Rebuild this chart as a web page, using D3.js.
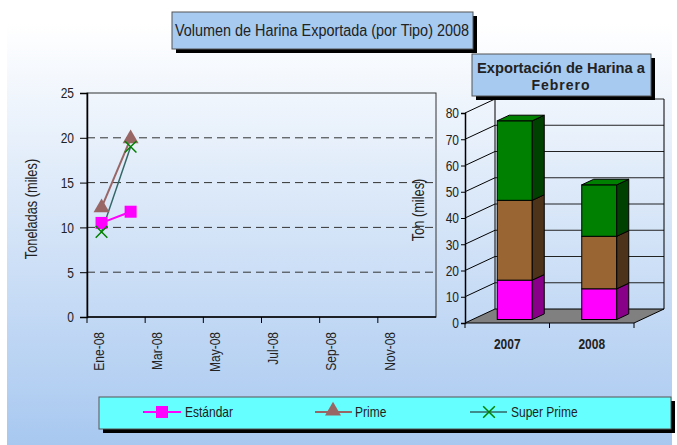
<!DOCTYPE html>
<html>
<head>
  <meta charset="utf-8">
  <title>Exportacion de Harina</title>
  <script src="https://d3js.org/d3.v7.min.js"></script>
  <style>
    body { margin: 0; background: #fff; }
    text { font-family: "Liberation Sans Narrow", "Arial Narrow", "Liberation Sans", sans-serif; fill: #222; }
  </style>
</head>
<body>
  <svg width="677" height="445"></svg>
  <script>
  // data
  var months = ["Ene-08","Feb-08","Mar-08","Abr-08","May-08","Jun-08","Jul-08","Ago-08","Sep-08","Oct-08","Nov-08","Dic-08"];
  var estandar = [10.5, 11.75];
  var prime = [12.2, 19.9];
  var superPrime = [9.5, 19.0];
  var leftTicks = [0, 5, 10, 15, 20, 25];

  var years = ["2007", "2008"];
  var barEstandar = [15.0, 11.7];
  var barPrime = [30.4, 20.0];
  var barSuper = [30.3, 19.6];
  var rightTicks = [0, 10, 20, 30, 40, 50, 60, 70, 80];

  var svg = d3.select("svg");

  // background gradient
  var defs = svg.append("defs");
  var grad = defs.append("linearGradient").attr("id", "bg").attr("x1", 0).attr("y1", 0).attr("x2", 0).attr("y2", 1);
  grad.append("stop").attr("offset", "0%").attr("stop-color", "#ffffff");
  grad.append("stop").attr("offset", "100%").attr("stop-color", "#a8c8f0");
  svg.append("rect").attr("x", 7).attr("y", 24).attr("width", 665).attr("height", 421).attr("fill", "url(#bg)");

  // ---------- left line chart ----------
  var y = d3.scaleLinear().domain([0, 25]).range([317, 93]);
  var x = d3.scaleBand().domain(months).range([87, 436]);

  var left = svg.append("g");
  left.append("rect").attr("x", 87).attr("y", 93).attr("width", 349).attr("height", 224)
    .attr("fill", "none").attr("stroke", "#333").attr("stroke-width", 1);

  left.selectAll(".grid").data(leftTicks.filter(function(d){ return d > 0 && d < 25; }))
    .enter().append("line")
    .attr("x1", 87).attr("x2", 436)
    .attr("y1", function(d){ return y(d); }).attr("y2", function(d){ return y(d); })
    .attr("stroke", "#333").attr("stroke-dasharray", "8,5");

  var yAxis = left.append("g").attr("transform", "translate(87,0)")
    .call(d3.axisLeft(y).tickValues(leftTicks).tickSize(7).tickPadding(6));
  yAxis.select(".domain").attr("stroke", "#000").attr("stroke-width", 1.5);
  yAxis.selectAll("text").attr("class", "n").style("font-size", "15px").attr("fill", "#222");

  // x axis: ticks every 2 months at band edges, labels at band centres
  left.append("line").attr("x1", 87).attr("x2", 436).attr("y1", 317).attr("y2", 317)
    .attr("stroke", "#000").attr("stroke-width", 1.5);
  var shown = months.filter(function(d, i){ return i % 2 === 0; });
  left.selectAll(".xt").data(shown).enter().append("line")
    .attr("x1", function(d){ return x(d); }).attr("x2", function(d){ return x(d); })
    .attr("y1", 317).attr("y2", 323).attr("stroke", "#000");
  left.selectAll(".xl").data(shown).enter().append("text")
    .attr("class", "n")
    .attr("transform", function(d){ return "translate(" + (x(d) + x.bandwidth() / 2 - 3) + ",332) rotate(-90)"; })
    .attr("text-anchor", "end").attr("dy", "0.35em")
    .style("font-size", "15px").text(function(d){ return d; });

  left.append("text").attr("class", "n").attr("transform", "translate(31,209) rotate(-90)")
    .attr("text-anchor", "middle").attr("dy", "0.35em").style("font-size", "16px")
    .text("Toneladas (miles)");

  function cx(i){ return x(months[i]) + x.bandwidth() / 2; }
  var line = d3.line().x(function(d, i){ return cx(i); }).y(function(d){ return y(d); });

  left.append("path").datum(prime).attr("d", line).attr("fill", "none").attr("stroke", "#996666").attr("stroke-width", 2);
  left.append("path").datum(superPrime).attr("d", line).attr("fill", "none").attr("stroke", "#336666").attr("stroke-width", 1.5);
  left.append("path").datum(estandar).attr("d", line).attr("fill", "none").attr("stroke", "#ff00ff").attr("stroke-width", 2);

  var tri = d3.symbol().type(d3.symbolTriangle).size(110);
  left.selectAll(".tri").data(prime).enter().append("path")
    .attr("d", tri).attr("transform", function(d, i){ return "translate(" + cx(i) + "," + y(d) + ")"; })
    .attr("fill", "#996666");
  left.selectAll(".sq").data(estandar).enter().append("rect")
    .attr("x", function(d, i){ return cx(i) - 6; }).attr("y", function(d){ return y(d) - 6; })
    .attr("width", 12).attr("height", 12).attr("fill", "#ff00ff");
  var cross = d3.symbol().type(d3.symbolX).size(90);
  left.selectAll(".xx").data(superPrime).enter().append("path")
    .attr("d", cross).attr("transform", function(d, i){ return "translate(" + cx(i) + "," + y(d) + ")"; })
    .attr("fill", "none").attr("stroke", "#008000").attr("stroke-width", 1.5);

  // ---------- right 3D stacked bar chart ----------
  var ry = d3.scaleLinear().domain([0, 80]).range([323, 113]);
  var rx = d3.scaleBand().domain(years).range([465, 634]);
  var dX = 30, dY = -14;

  var right = svg.append("g");
  // floor
  right.append("polygon")
    .attr("points", [[465, ry(0)], [634, ry(0)], [634 + dX, ry(0) + dY], [465 + dX, ry(0) + dY]].join(" "))
    .attr("fill", "#808080").attr("stroke", "#000");
  // back wall gridlines and side wall lines
  right.selectAll(".bg").data(rightTicks.filter(function(d){ return d > 0; })).enter().append("line")
    .attr("x1", 465 + dX).attr("x2", 634 + dX)
    .attr("y1", function(d){ return ry(d) + dY; }).attr("y2", function(d){ return ry(d) + dY; })
    .attr("stroke", "#222");
  right.selectAll(".sw").data(rightTicks.filter(function(d){ return d > 0; })).enter().append("line")
    .attr("x1", 465).attr("x2", 465 + dX)
    .attr("y1", function(d){ return ry(d); }).attr("y2", function(d){ return ry(d) + dY; })
    .attr("stroke", "#000");
  right.append("line").attr("x1", 465 + dX).attr("x2", 465 + dX).attr("y1", ry(80) + dY).attr("y2", ry(0) + dY).attr("stroke", "#000");
  right.append("line").attr("x1", 634 + dX).attr("x2", 634 + dX).attr("y1", ry(80) + dY).attr("y2", ry(0) + dY).attr("stroke", "#000");

  var ryAxis = right.append("g").attr("transform", "translate(465,0)")
    .call(d3.axisLeft(ry).tickValues(rightTicks).tickSize(4).tickPadding(2));
  ryAxis.select(".domain").attr("stroke", "#000").attr("stroke-width", 1.5);
  ryAxis.selectAll("text").attr("class", "n").style("font-size", "15px").attr("fill", "#222");

  // x axis on the front edge of the floor
  right.selectAll(".rt").data([465, rx("2008"), 634]).enter().append("line")
    .attr("x1", function(d){ return d; }).attr("x2", function(d){ return d; })
    .attr("y1", ry(0)).attr("y2", ry(0) + 5).attr("stroke", "#000");
  right.selectAll(".rl").data(years).enter().append("text")
    .attr("class", "n")
    .attr("x", function(d){ return rx(d) + rx.bandwidth() / 2; }).attr("y", 349)
    .attr("text-anchor", "middle").style("font-size", "15px").style("font-weight", "bold")
    .text(function(d){ return d; });

  right.append("text").attr("class", "n").attr("transform", "translate(418,210) rotate(-90)")
    .attr("text-anchor", "middle").attr("dy", "0.35em").style("font-size", "16px")
    .text("Ton (miles)");

  var stackKeys = [
    { vals: barEstandar, front: "#ff00ff", side: "#880088" },
    { vals: barPrime, front: "#996633", side: "#4d331a" },
    { vals: barSuper, front: "#008000", side: "#004000" }
  ];
  var barW = 35, fX = 7.5, fY = -3.5, bX = 12, bY = -5.6;
  years.forEach(function(yr, i) {
    var x0 = rx(yr) + rx.bandwidth() / 2 - barW / 2 + fX;
    var base = 0;
    stackKeys.forEach(function(s, k) {
      var top = base + s.vals[i];
      var yb = ry(base) + fY, yt = ry(top) + fY;
      right.append("rect").attr("x", x0).attr("y", yt).attr("width", barW).attr("height", yb - yt)
        .attr("fill", s.front).attr("stroke", "#000");
      right.append("polygon")
        .attr("points", [[x0 + barW, yb], [x0 + barW + bX, yb + bY], [x0 + barW + bX, yt + bY], [x0 + barW, yt]].join(" "))
        .attr("fill", s.side).attr("stroke", "#000");
      if (k === stackKeys.length - 1) {
        right.append("polygon")
          .attr("points", [[x0, yt], [x0 + bX, yt + bY], [x0 + barW + bX, yt + bY], [x0 + barW, yt]].join(" "))
          .attr("fill", s.front).attr("stroke", "#000");
      }
      base = top;
    });
  });

  // ---------- title boxes ----------
  function box(x0, y0, w, h, fill) {
    svg.append("rect").attr("x", x0 + 4).attr("y", y0 + 4).attr("width", w).attr("height", h).attr("fill", "#000");
    svg.append("rect").attr("x", x0).attr("y", y0).attr("width", w).attr("height", h)
      .attr("fill", fill).attr("stroke", "#555").attr("stroke-width", 1);
  }
  box(172, 12, 301, 37, "#a6caf0");
  svg.append("text").attr("x", 322).attr("y", 36).attr("text-anchor", "middle")
    .style("font-size", "16px").attr("textLength", 294).attr("lengthAdjust", "spacingAndGlyphs")
    .text("Volumen de Harina Exportada (por Tipo) 2008");

  box(472, 54, 179, 42, "#a6caf0");
  svg.append("text").attr("x", 561).attr("y", 73).attr("text-anchor", "middle")
    .style("font-size", "14px").style("font-weight", "bold").attr("textLength", 168).attr("lengthAdjust", "spacingAndGlyphs")
    .text("Exportación de Harina a");
  svg.append("text").attr("x", 561).attr("y", 90).attr("text-anchor", "middle")
    .style("font-size", "14px").style("font-weight", "bold").style("letter-spacing", "1px")
    .text("Febrero");

  // ---------- legend ----------
  box(99, 397, 572, 32, "#66ffff");
  var legY = 412;
  var leg = svg.append("g");
  leg.append("line").attr("x1", 143).attr("x2", 181).attr("y1", legY).attr("y2", legY).attr("stroke", "#ff00ff").attr("stroke-width", 2);
  leg.append("rect").attr("x", 156).attr("y", legY - 6).attr("width", 12).attr("height", 12).attr("fill", "#ff00ff");
  leg.append("text").attr("class", "n").attr("x", 185).attr("y", legY).attr("dy", "0.35em").style("font-size", "15px").text("Estándar");

  leg.append("line").attr("x1", 315).attr("x2", 352).attr("y1", legY).attr("y2", legY).attr("stroke", "#996666").attr("stroke-width", 2);
  leg.append("path").attr("d", tri).attr("transform", "translate(333," + (legY - 1) + ")").attr("fill", "#996666");
  leg.append("text").attr("class", "n").attr("x", 355).attr("y", legY).attr("dy", "0.35em").style("font-size", "15px").text("Prime");

  leg.append("line").attr("x1", 470).attr("x2", 507).attr("y1", legY).attr("y2", legY).attr("stroke", "#336666").attr("stroke-width", 1.5);
  leg.append("path").attr("d", cross).attr("transform", "translate(489," + legY + ")").attr("fill", "none").attr("stroke", "#008000").attr("stroke-width", 1.5);
  leg.append("text").attr("class", "n").attr("x", 511).attr("y", legY).attr("dy", "0.35em").style("font-size", "15px").text("Super Prime");

  // squeeze plain text to mimic the narrow face of the original
  svg.selectAll("text.n").each(function() {
    var w = this.getComputedTextLength();
    d3.select(this).attr("textLength", w * 0.8).attr("lengthAdjust", "spacingAndGlyphs");
  });
  </script>
</body>
</html>
